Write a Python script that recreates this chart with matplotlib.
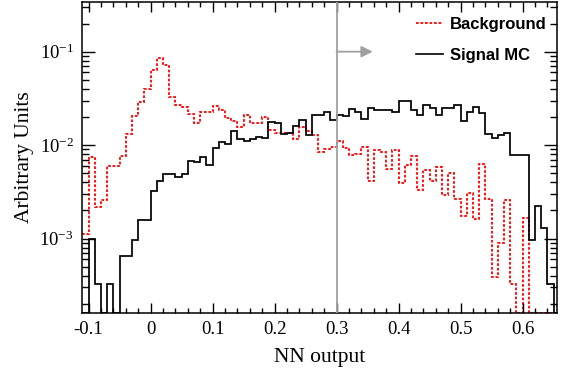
import numpy as np
import matplotlib
matplotlib.use("Agg")
import matplotlib.pyplot as plt
from matplotlib import ticker
from matplotlib.lines import Line2D

# ---- data: NN output histograms, bins of 0.01 from -0.11 to 0.66 ----
bin_lo = -0.11
bin_hi = 0.66
n_bins = 77

background = [1.12e-3, 7.41e-3, 2.19e-3, 2.60e-3, 6.03e-3, 6.03e-3, 7.59e-3, 1.32e-2, 2.04e-2, 2.88e-2,
              3.98e-2, 6.31e-2, 8.51e-2, 7.24e-2, 3.31e-2, 2.69e-2, 2.57e-2, 2.16e-2, 1.72e-2, 2.29e-2,
              2.24e-2, 2.63e-2, 2.40e-2, 1.97e-2, 1.82e-2, 1.55e-2, 2.11e-2, 1.72e-2, 1.72e-2, 2.00e-2,
              1.45e-2, 1.36e-2, 1.35e-2, 1.36e-2, 1.15e-2, 1.55e-2, 1.41e-2, 1.29e-2, 8.51e-3, 9.12e-3,
              9.66e-3, 1.12e-2, 9.33e-3, 7.76e-3, 8.13e-3, 9.66e-3, 4.17e-3, 8.91e-3, 8.51e-3, 5.50e-3,
              8.91e-3, 3.89e-3, 6.17e-3, 7.59e-3, 3.31e-3, 5.37e-3, 4.17e-3, 5.89e-3, 2.95e-3, 5.01e-3,
              2.63e-3, 1.74e-3, 3.09e-3, 1.62e-3, 6.31e-3, 2.63e-3, 3.89e-4, 8.91e-4, 2.57e-3, 3.24e-4,
              0.0, 1.66e-3, 0.0, 0.0, 0.0, 0.0, 0.0]

signal = [0.0, 1.00e-3, 3.24e-4, 0.0, 3.24e-4, 0.0, 6.46e-4, 6.46e-4, 9.77e-4, 1.58e-3,
          1.58e-3, 3.24e-3, 4.17e-3, 4.90e-3, 4.90e-3, 4.57e-3, 4.90e-3, 6.76e-3, 6.53e-3, 7.41e-3,
          6.17e-3, 9.33e-3, 1.07e-2, 1.02e-2, 1.41e-2, 1.15e-2, 1.10e-2, 1.17e-2, 1.23e-2, 1.20e-2,
          1.78e-2, 1.72e-2, 1.32e-2, 1.36e-2, 1.62e-2, 1.84e-2, 1.29e-2, 2.09e-2, 2.09e-2, 2.24e-2,
          1.84e-2, 2.11e-2, 2.04e-2, 2.45e-2, 2.29e-2, 1.91e-2, 2.51e-2, 2.40e-2, 2.40e-2, 2.40e-2,
          2.29e-2, 2.95e-2, 2.95e-2, 2.40e-2, 2.11e-2, 2.69e-2, 2.51e-2, 2.11e-2, 2.51e-2, 2.51e-2,
          2.69e-2, 1.82e-2, 2.24e-2, 2.57e-2, 2.21e-2, 1.33e-2, 1.20e-2, 1.27e-2, 1.35e-2, 7.94e-3,
          7.94e-3, 7.94e-3, 9.77e-4, 2.26e-3, 1.30e-3, 3.24e-4, 0.0]

cut_value = 0.3
xticks = [-0.1, 0, 0.1, 0.2, 0.3, 0.4, 0.5, 0.6]
xtick_labels = ["-0.1", "0", "0.1", "0.2", "0.3", "0.4", "0.5", "0.6"]

# ---- style ----
plt.rcParams['mathtext.fontset'] = 'custom'
plt.rcParams['mathtext.rm'] = 'Liberation Serif'
plt.rcParams['mathtext.it'] = 'Liberation Serif:italic'
plt.rcParams['axes.unicode_minus'] = False

ymin, ymax = 1.6e-4, 0.34
gray = '#a0a0a0'

fig = plt.figure(figsize=(5.61, 3.72), dpi=100)
ax = fig.add_axes([82/561, 1-313/372, 475/561, 311/372])

edges = np.linspace(bin_lo, bin_hi, n_bins + 1)
bkg = np.array(background)
sig = np.array(signal)
# ROOT draws empty bins along the lower frame
bkg_draw = np.where(bkg > 0, bkg, ymin)
sig_draw = np.where(sig > 0, sig, ymin)

ax.stairs(bkg_draw, edges, baseline=None, color='red', lw=1.3,
          linestyle=(0, (1.5, 1.0)), label='Background')
ax.stairs(sig_draw, edges, baseline=None, color='black', lw=1.25, label='Signal MC')

ax.axvline(cut_value, color=gray, lw=1.3, zorder=3)
ax.annotate('', xy=(0.3584, 0.1), xytext=(cut_value, 0.1),
            arrowprops=dict(arrowstyle='-|>,head_length=0.4,head_width=0.2',
                            color=gray, lw=1.3, mutation_scale=17,
                            shrinkA=0, shrinkB=0))

ax.set_yscale('log')
ax.set_xlim(-0.1105, 0.6556)
ax.set_ylim(ymin, ymax)

ax.xaxis.set_major_locator(ticker.FixedLocator(xticks))
ax.xaxis.set_major_formatter(ticker.FixedFormatter(xtick_labels))
ax.xaxis.set_minor_locator(ticker.MultipleLocator(0.02))
ax.yaxis.set_major_locator(ticker.LogLocator(base=10, numticks=10))
ax.yaxis.set_minor_locator(ticker.LogLocator(base=10, subs=np.arange(2, 10), numticks=20))
ax.yaxis.set_minor_formatter(ticker.NullFormatter())

for side in ax.spines.values():
    side.set_linewidth(1.1)
ax.tick_params(which='both', direction='in', top=True, right=True, width=1.0,
               labelsize=13.5)
ax.tick_params(axis='x', which='major', length=7, pad=6)
ax.tick_params(axis='x', which='minor', length=3.6)
ax.tick_params(axis='y', which='major', length=9.5, pad=6)
ax.tick_params(axis='y', which='minor', length=5)
for lab in ax.get_xticklabels() + ax.get_yticklabels():
    lab.set_family('Liberation Serif')

ax.set_xlabel('NN output', family='Liberation Serif', fontsize=15.5, labelpad=7)
ax.set_ylabel('Arbitrary Units', family='Liberation Serif', fontsize=15.5, labelpad=4)

handles = [Line2D([], [], color='red', lw=1.3, linestyle=(0, (1.5, 1.0))),
           Line2D([], [], color='black', lw=1.2)]
ax.legend(handles, ['Background', 'Signal MC'], loc='upper left',
          bbox_to_anchor=(408/561, 1-9/372), bbox_transform=fig.transFigure,
          frameon=False, borderpad=0, handlelength=1.6, handletextpad=0.4,
          labelspacing=0.95, prop={'family': 'Liberation Sans', 'weight': 'bold', 'size': 12})

fig.savefig('out.png', dpi=100)
